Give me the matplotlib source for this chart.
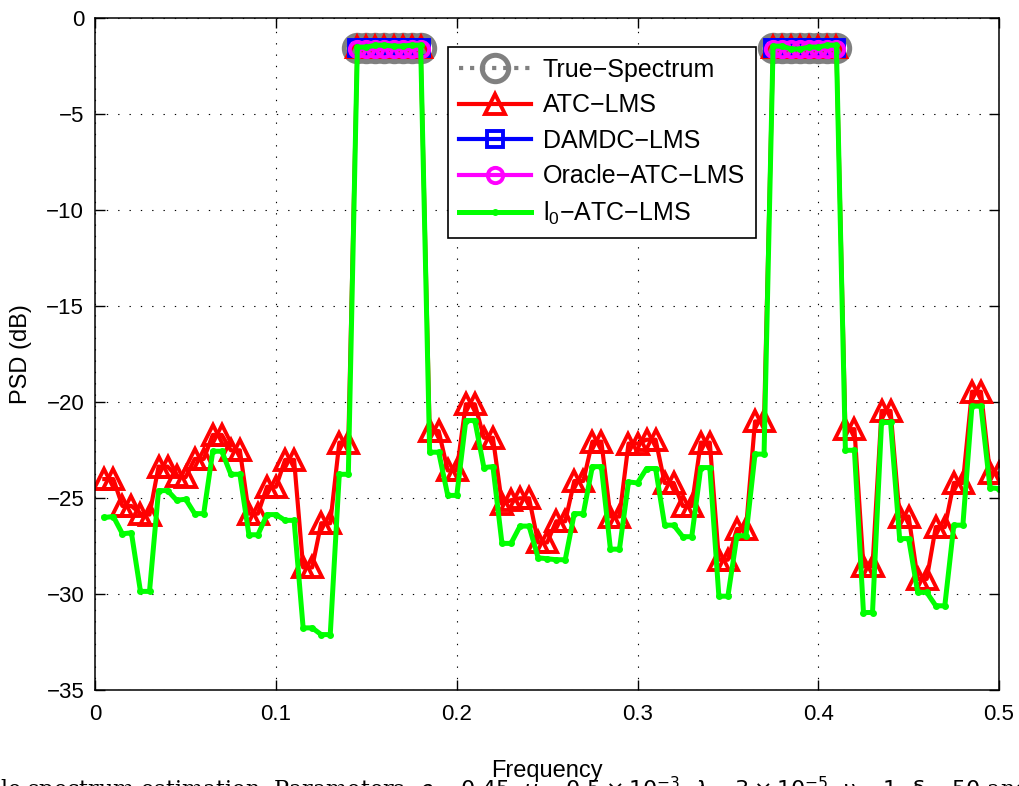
import numpy as np
import matplotlib
matplotlib.use("Agg")
import matplotlib.pyplot as plt

plt.rcParams['font.family'] = ['Liberation Sans', 'DejaVu Sans']
plt.rcParams['axes.unicode_minus'] = True

# ---------------- data ----------------
freq = [round(0.005 * k, 3) for k in range(1, 101)]

band1_freq = [0.145, 0.15, 0.155, 0.16, 0.165, 0.17, 0.175, 0.18]
band2_freq = [0.375, 0.38, 0.385, 0.39, 0.395, 0.40, 0.405, 0.41]
band_freq = band1_freq + band2_freq

true_band = [-1.55] * 16
damdc_band = [-1.55] * 16
oracle_band = [-1.6] * 16

atc_lms = [
    -24.0, -24.0, -25.4, -25.4, -25.8, -25.85, -23.35, -23.35, -23.85, -23.9,
    -22.95, -22.95, -21.7, -21.7, -22.5, -22.5, -25.8, -25.8, -24.4, -24.4,
    -23.0, -23.0, -28.6, -28.6, -26.3, -26.3, -22.1, -22.1,
    -1.5, -1.5, -1.5, -1.5, -1.5, -1.5, -1.5, -1.5,
    -21.5, -21.5, -23.55, -23.55, -20.1, -20.1, -21.85, -21.85, -25.3, -25.1,
    -25.0, -25.0, -27.3, -27.3, -26.2, -26.2, -24.1, -24.1, -22.05, -22.05,
    -25.95, -25.95, -22.15, -22.15, -21.95, -21.95, -24.2, -24.2, -25.4, -25.4,
    -22.1, -22.1, -28.2, -28.2, -26.6, -26.6, -21.0, -21.0,
    -1.5, -1.5, -1.5, -1.5, -1.5, -1.5, -1.5, -1.5,
    -21.4, -21.4, -28.55, -28.55, -20.45, -20.45, -25.95, -25.95, -29.2, -29.2,
    -26.5, -26.5, -24.2, -24.2, -19.45, -19.45, -23.7, -23.7,
]

l0_atc_lms = [
    -26.0, -25.95, -26.85, -26.8, -29.85, -29.85, -24.6, -24.6, -25.1, -25.05,
    -25.8, -25.8, -22.55, -22.55, -23.75, -23.75, -26.9, -26.9, -25.85, -25.85,
    -26.15, -26.15, -31.75, -31.75, -32.1, -32.1, -23.75, -23.75,
    -1.5, -1.5, -1.4, -1.4, -1.45, -1.45, -1.4, -1.4,
    -22.6, -22.6, -24.85, -24.85, -20.95, -20.95, -23.4, -23.35, -27.35, -27.35,
    -26.45, -26.45, -28.1, -28.15, -28.2, -28.2, -25.8, -25.8, -23.35, -23.35,
    -27.65, -27.65, -24.15, -24.2, -23.45, -23.45, -26.4, -26.4, -27.0, -27.0,
    -23.4, -23.4, -30.1, -30.1, -26.95, -26.95, -22.7, -22.7,
    -1.45, -1.45, -1.6, -1.6, -1.5, -1.5, -1.4, -1.4,
    -22.5, -22.5, -30.95, -30.95, -21.05, -21.05, -27.1, -27.1, -29.9, -29.9,
    -30.6, -30.6, -26.4, -26.4, -20.2, -20.2, -24.45, -24.5,
]

xticks = [0, 0.1, 0.2, 0.3, 0.4, 0.5]
xticklabels = ['0', '0.1', '0.2', '0.3', '0.4', '0.5']
yticks = [-35, -30, -25, -20, -15, -10, -5, 0]


def banded(fr, vals):
    """insert a NaN break between the two bands"""
    f = np.array(fr, dtype=float)
    v = np.array(vals, dtype=float)
    f = np.concatenate([f[:8], [np.nan], f[8:]])
    v = np.concatenate([v[:8], [np.nan], v[8:]])
    return f, v


# ---------------- figure ----------------
fig = plt.figure(figsize=(10.19, 7.86), dpi=100)
ax = fig.add_axes([0.0935, 0.1218, 0.8869, 0.8549])

gray = (0.5, 0.5, 0.5)
f_t, v_t = banded(band_freq, true_band)
ax.plot(f_t, v_t, linestyle=':', color=gray, lw=3,
        marker='o', ms=19, mew=3.6, mfc='none', mec=gray,
        label='True\u2212Spectrum')
ax.plot(freq, atc_lms, '-', color='red', lw=3, marker='^', ms=15, mew=2.8,
        mfc='none', mec='red', label='ATC\u2212LMS')
f_d, v_d = banded(band_freq, damdc_band)
ax.plot(f_d, v_d, '-', color='blue', lw=3, marker='s', ms=12, mew=2.8,
        mfc='none', mec='blue', label='DAMDC\u2212LMS')
f_o, v_o = banded(band_freq, oracle_band)
ax.plot(f_o, v_o, '-', color='magenta', lw=3, marker='o', ms=11, mew=2.8,
        mfc='none', mec='magenta', label='Oracle\u2212ATC\u2212LMS')
ax.plot(freq, l0_atc_lms, '-', color=(0, 1, 0), lw=3.6, marker='.', ms=8,
        label='$\\mathregular{l_0}$\u2212ATC\u2212LMS')

ax.set_xlim(0, 0.5)
ax.set_ylim(-35, 0)
ax.set_xticks(xticks)
ax.set_xticklabels(xticklabels)
ax.set_yticks(yticks)
ax.tick_params(direction='in', length=7, width=1, labelsize=16,
               top=True, right=True)
ax.tick_params(axis='x', pad=10)
ax.tick_params(axis='y', pad=8)
for s in ax.spines.values():
    s.set_linewidth(1.1)
ax.grid(True, color='black', linestyle=(0, (1.2, 9)), lw=0.8)

ax.set_xlabel('Frequency', fontsize=17, labelpad=25)
ax.set_ylabel('PSD (dB)', fontsize=17, labelpad=10)

leg = ax.legend(loc='upper left', bbox_to_anchor=(0.390, 0.958),
                fontsize=18, numpoints=1, fancybox=False, framealpha=1,
                edgecolor='black', handlelength=2.9, handletextpad=0.45,
                borderpad=0.45, labelspacing=0.46, borderaxespad=0)
leg.get_frame().set_linewidth(1.2)

fig.text(0.0, -0.0145,
         'le spectrum estimation. Parameters: $\\rho = 0.45$, $\\mu = 0.5\\times10^{-3}$, '
         '$\\lambda = 3\\times10^{-5}$, $\\nu = 1$, $\\delta = 50$ and $C = 3/50$',
         fontsize=16, family='DejaVu Serif', va='baseline', ha='left')

fig.savefig('out.png', dpi=100)
